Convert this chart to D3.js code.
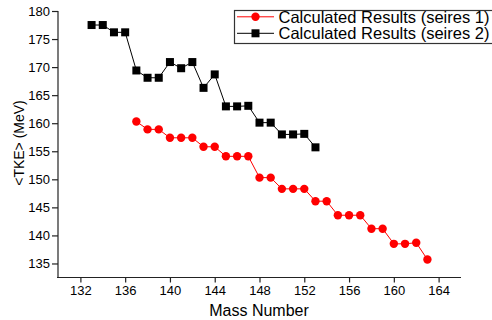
<!DOCTYPE html>
<html><head><meta charset="utf-8">
<script src="https://cdn.jsdelivr.net/npm/d3@7"></script>
<style>
html,body{margin:0;padding:0;background:#fff;}
svg{display:block;font-family:"Liberation Sans",Arial,sans-serif;}
</style></head>
<body><svg id="c" width="492" height="320"></svg>
<script>
const massS1 = [137,138,139,140,141,142,143,144,145,146,147,148,149,150,151,152,153,154,155,156,157,158,159,160,161,162,163];
const tkeS1  = [160.3,158.9,158.9,157.4,157.4,157.4,155.8,155.8,154.1,154.1,154.1,150.3,150.3,148.3,148.3,148.3,146.1,146.1,143.6,143.6,143.6,141.2,141.2,138.5,138.5,138.7,135.7];
const massS2 = [133,134,135,136,137,138,139,140,141,142,143,144,145,146,147,148,149,150,151,152,153];
const tkeS2  = [177.5,177.5,176.2,176.2,169.4,168.1,168.1,170.9,169.8,170.9,166.3,168.7,163.0,163.0,163.1,160.1,160.1,158.0,158.0,158.1,155.7];
const xTicks = [132,136,140,144,148,152,156,160,164];
const yTicks = [135,140,145,150,155,160,165,170,175,180];
const seriesNames = ["Calculated Results (seires 1)","Calculated Results (seires 2)"];

const svg = d3.select("#c");
const x = d3.scaleLinear().domain([130,166]).range([58,461]);
const y = d3.scaleLinear().domain([132.5,180]).range([277.5,11]);
const axisColor = "#222";

const xMinor = d3.range(130,167,2).filter(v=>!xTicks.includes(v));
const yMinor = d3.range(132.5,180.1,2.5).filter(v=>!yTicks.includes(v));

const gx = svg.append("g").attr("transform","translate(0,277.5)");
gx.call(d3.axisBottom(x).tickValues(xMinor).tickSize(3).tickFormat(""));
gx.call(d3.axisBottom(x).tickValues(xTicks).tickSize(5).tickPadding(3).tickFormat(d3.format("d")));
gx.selectAll("path.domain").attr("stroke",axisColor).attr("stroke-width",1.2);
gx.selectAll("line").attr("stroke",axisColor).attr("stroke-width",1.2);
gx.selectAll("text").attr("font-size",13).attr("fill","#000").attr("font-family","Liberation Sans, Arial, sans-serif");

const gy = svg.append("g").attr("transform","translate(58,0)");
gy.call(d3.axisLeft(y).tickValues(yMinor).tickSize(3).tickFormat(""));
gy.call(d3.axisLeft(y).tickValues(yTicks).tickSize(6).tickPadding(2).tickFormat(d3.format("d")));
gy.selectAll("path.domain").attr("stroke",axisColor).attr("stroke-width",1.2);
gy.selectAll("line").attr("stroke",axisColor).attr("stroke-width",1.2);
gy.selectAll("text").attr("font-size",13).attr("fill","#000").attr("font-family","Liberation Sans, Arial, sans-serif");
gx.selectAll("path.domain").attr("d",`M${x(130)-1},0H${x(166)}`);
gy.selectAll("path.domain").attr("d",`M0,${y(132.5)}V${y(180)}`);

const line = d3.line().x(d=>x(d[0])).y(d=>y(d[1]));
const d1 = massS1.map((m,i)=>[m,tkeS1[i]]);
const d2 = massS2.map((m,i)=>[m,tkeS2[i]]);

svg.append("path").datum(d2).attr("d",line).attr("fill","none").attr("stroke","#000").attr("stroke-width",1);
svg.selectAll("rect.s2").data(d2).enter().append("rect").attr("class","s2")
  .attr("x",d=>x(d[0])-4).attr("y",d=>y(d[1])-4).attr("width",8).attr("height",8).attr("fill","#000");

svg.append("path").datum(d1).attr("d",line).attr("fill","none").attr("stroke","#ff0000").attr("stroke-width",1);
svg.selectAll("circle.s1").data(d1).enter().append("circle").attr("class","s1")
  .attr("cx",d=>x(d[0])).attr("cy",d=>y(d[1])).attr("r",4.2).attr("fill","#ff0000");

svg.append("text").attr("x",259).attr("y",316).attr("text-anchor","middle").attr("font-size",16).attr("fill","#000").text("Mass Number");
svg.append("text").attr("transform","translate(23.5,143) rotate(-90)").attr("text-anchor","middle").attr("font-size",14).attr("fill","#000").text("<TKE> (MeV)");

const lg = svg.append("g");
lg.append("rect").attr("x",234.5).attr("y",10.5).attr("width",270).attr("height",33).attr("fill","#fff").attr("stroke","#333").attr("stroke-width",1.2);
const rows = [16.8, 33.3];
lg.append("line").attr("x1",237).attr("x2",274).attr("y1",rows[0]).attr("y2",rows[0]).attr("stroke","#ff0000").attr("stroke-width",1);
lg.append("circle").attr("cx",255.5).attr("cy",rows[0]).attr("r",4.2).attr("fill","#ff0000");
lg.append("line").attr("x1",237).attr("x2",274).attr("y1",rows[1]).attr("y2",rows[1]).attr("stroke","#000").attr("stroke-width",1);
lg.append("rect").attr("x",251.5).attr("y",rows[1]-4).attr("width",8).attr("height",8).attr("fill","#000");
seriesNames.forEach((s,i)=>{
  lg.append("text").attr("x",278.5).attr("y",rows[i]+5.8).attr("font-size",16.5).attr("fill","#000").text(s);
});
</script></body></html>
